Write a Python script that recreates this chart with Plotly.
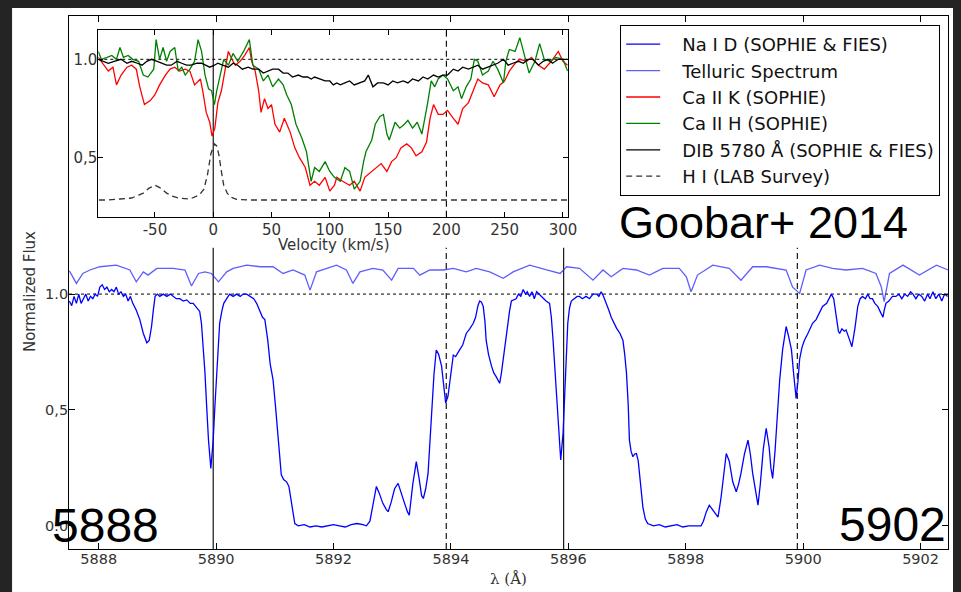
import plotly.graph_objects as go

# ---------------- data ----------------
# Main panel: Na I D spectrum (wavelength in Angstrom, normalized flux)
NA_WAVE = [5887.50, 5887.54, 5887.58, 5887.62, 5887.66, 5887.70, 5887.74, 5887.78, 5887.82, 5887.86,
           5887.90, 5887.94, 5887.98, 5888.02, 5888.06, 5888.10, 5888.14, 5888.18, 5888.22, 5888.26,
           5888.30, 5888.34, 5888.38, 5888.42, 5888.46, 5888.50, 5888.54, 5888.58, 5888.64, 5888.70,
           5888.76, 5888.82, 5888.86, 5888.90, 5888.93, 5888.96, 5889.00, 5889.04, 5889.10, 5889.16,
           5889.22, 5889.27, 5889.32, 5889.38, 5889.44, 5889.50, 5889.56, 5889.61, 5889.67, 5889.72,
           5889.75, 5889.78, 5889.81, 5889.84, 5889.87, 5889.91, 5889.95, 5889.98, 5890.01, 5890.04,
           5890.06, 5890.10, 5890.13, 5890.18, 5890.23, 5890.29, 5890.35, 5890.41, 5890.46, 5890.52,
           5890.58, 5890.64, 5890.69, 5890.75, 5890.79, 5890.83, 5890.88, 5890.92, 5890.97, 5891.01,
           5891.06, 5891.11, 5891.15, 5891.20, 5891.24, 5891.28, 5891.31, 5891.34, 5891.40, 5891.50,
           5891.60, 5891.70, 5891.80, 5891.90, 5892.00, 5892.10, 5892.20, 5892.30, 5892.40, 5892.50,
           5892.56, 5892.62, 5892.67, 5892.73, 5892.78, 5892.84, 5892.90, 5892.93, 5892.98, 5893.04,
           5893.10, 5893.15, 5893.21, 5893.26, 5893.29, 5893.35, 5893.41, 5893.46, 5893.50, 5893.53,
           5893.57, 5893.61, 5893.64, 5893.67, 5893.71, 5893.75, 5893.79, 5893.84, 5893.88, 5893.91,
           5893.95, 5893.98, 5894.01, 5894.04, 5894.08, 5894.12, 5894.15, 5894.20, 5894.26, 5894.32,
           5894.38, 5894.42, 5894.46, 5894.49, 5894.52, 5894.55, 5894.58, 5894.60, 5894.64, 5894.69,
           5894.73, 5894.77, 5894.80, 5894.83, 5894.86, 5894.89, 5894.93, 5894.97, 5895.00, 5895.03,
           5895.07, 5895.11, 5895.15, 5895.19, 5895.23, 5895.27, 5895.30, 5895.34, 5895.38, 5895.42,
           5895.46, 5895.50, 5895.54, 5895.57, 5895.62, 5895.68, 5895.71, 5895.74, 5895.77, 5895.80,
           5895.84, 5895.87, 5895.91, 5895.95, 5895.99, 5896.02, 5896.05, 5896.10, 5896.15, 5896.19,
           5896.24, 5896.30, 5896.36, 5896.42, 5896.48, 5896.52, 5896.56, 5896.60, 5896.65, 5896.69,
           5896.73, 5896.78, 5896.82, 5896.88, 5896.93, 5896.96, 5896.99, 5897.02, 5897.04, 5897.07,
           5897.10, 5897.13, 5897.16, 5897.19, 5897.21, 5897.24, 5897.27, 5897.31, 5897.35, 5897.45,
           5897.55, 5897.65, 5897.75, 5897.85, 5897.95, 5898.05, 5898.15, 5898.26, 5898.30, 5898.35,
           5898.40, 5898.46, 5898.51, 5898.55, 5898.60, 5898.65, 5898.69, 5898.74, 5898.80, 5898.86,
           5898.90, 5898.94, 5899.00, 5899.06, 5899.10, 5899.14, 5899.19, 5899.23, 5899.27, 5899.32,
           5899.37, 5899.42, 5899.45, 5899.48, 5899.52, 5899.56, 5899.60, 5899.65, 5899.71, 5899.75,
           5899.80, 5899.84, 5899.88, 5899.91, 5899.94, 5899.98, 5900.02, 5900.08, 5900.16, 5900.22,
           5900.28, 5900.33, 5900.40, 5900.48, 5900.52, 5900.56, 5900.60, 5900.62, 5900.66, 5900.70,
           5900.73, 5900.78, 5900.83, 5900.88, 5900.93, 5900.97, 5901.01, 5901.06, 5901.10, 5901.14,
           5901.18, 5901.22, 5901.27, 5901.32, 5901.36, 5901.38, 5901.41, 5901.46, 5901.52, 5901.58,
           5901.63, 5901.68, 5901.73, 5901.78, 5901.83, 5901.87, 5901.92, 5901.97, 5902.02, 5902.07,
           5902.12, 5902.16, 5902.21, 5902.26, 5902.31, 5902.36, 5902.41, 5902.46]
NA_FLUX = [0.97, 0.95, 0.99, 0.96, 1.00, 0.96, 0.98, 1.00, 0.97, 0.99,
           0.98, 1.00, 0.99, 1.03, 1.04, 1.02, 1.03, 1.01, 1.02, 1.01,
           1.03, 1.00, 1.01, 0.99, 1.00, 0.97, 0.99, 0.96, 0.93, 0.89,
           0.83, 0.79, 0.80, 0.86, 0.93, 0.99, 1.00, 0.99, 1.00, 0.99,
           1.00, 0.99, 0.98, 0.98, 0.97, 0.975, 0.96, 0.96, 0.94, 0.925,
           0.874, 0.77, 0.66, 0.51, 0.37, 0.248, 0.37, 0.52, 0.66, 0.79,
           0.874, 0.93, 0.96, 0.98, 1.00, 0.99, 1.00, 0.99, 1.00, 1.00,
           0.99, 0.98, 0.96, 0.92, 0.90, 0.89, 0.80, 0.70, 0.63, 0.52,
           0.37, 0.22, 0.20, 0.19, 0.17, 0.10, 0.04, 0.01, 0.00, 0.005,
           -0.005, 0.00, -0.005, 0.00, 0.005, 0.00, -0.005, 0.005, 0.01, 0.005,
           0.00, 0.02, 0.09, 0.17, 0.14, 0.097, 0.07, 0.061, 0.10, 0.16,
           0.183, 0.14, 0.097, 0.06, 0.046, 0.18, 0.277, 0.20, 0.13, 0.118,
           0.16, 0.226, 0.35, 0.485, 0.65, 0.759, 0.74, 0.69, 0.60, 0.53,
           0.56, 0.615, 0.68, 0.737, 0.73, 0.75, 0.76, 0.78, 0.83, 0.85,
           0.874, 0.90, 0.95, 0.97, 0.965, 0.947, 0.88, 0.80, 0.74, 0.69,
           0.66, 0.644, 0.63, 0.615, 0.66, 0.72, 0.80, 0.874, 0.93, 0.97,
           0.975, 0.98, 1.00, 0.99, 1.02, 1.00, 1.01, 0.99, 1.01, 0.98,
           1.01, 1.00, 0.99, 0.98, 0.97, 0.96, 0.90, 0.80, 0.67, 0.543,
           0.40, 0.284, 0.40, 0.66, 0.874, 0.94, 0.97, 0.98, 0.99, 0.99,
           0.98, 0.99, 0.98, 1.00, 1.00, 0.99, 1.01, 0.99, 0.96, 0.93,
           0.90, 0.87, 0.853, 0.83, 0.80, 0.74, 0.66, 0.52, 0.37, 0.32,
           0.298, 0.31, 0.312, 0.28, 0.226, 0.15, 0.08, 0.03, 0.01, 0.00,
           0.005, -0.005, 0.00, 0.005, -0.005, 0.00, 0.00, 0.00, 0.02, 0.06,
           0.089, 0.067, 0.05, 0.038, 0.12, 0.24, 0.312, 0.28, 0.19, 0.147,
           0.18, 0.226, 0.31, 0.37, 0.31, 0.226, 0.14, 0.089, 0.18, 0.33,
           0.421, 0.34, 0.25, 0.205, 0.32, 0.48, 0.63, 0.76, 0.86, 0.82,
           0.76, 0.65, 0.55, 0.62, 0.72, 0.77, 0.80, 0.83, 0.874, 0.89,
           0.92, 0.947, 0.96, 1.00, 0.98, 0.90, 0.84, 0.83, 0.85, 0.84,
           0.845, 0.81, 0.773, 0.85, 0.947, 0.98, 0.99, 0.98, 1.00, 0.98,
           0.98, 0.96, 0.947, 0.92, 0.90, 0.93, 0.96, 0.97, 0.99, 0.99,
           1.00, 0.98, 1.00, 0.99, 1.01, 1.00, 0.98, 1.00, 0.99, 0.97,
           1.00, 0.98, 1.01, 0.98, 1.00, 0.97, 1.00, 0.99]

# Telluric spectrum (offset above the Na I D spectrum)
TEL_WAVE = [5887.50, 5887.51, 5887.62, 5887.73, 5887.85, 5888.02, 5888.30, 5888.53, 5888.64, 5888.76,
            5888.84, 5888.99, 5889.27, 5889.47, 5889.58, 5889.70, 5889.81, 5889.92, 5890.04, 5890.18,
            5890.29, 5890.52, 5890.75, 5890.97, 5891.14, 5891.31, 5891.51, 5891.60, 5891.71, 5891.88,
            5892.05, 5892.22, 5892.33, 5892.45, 5892.67, 5892.84, 5892.99, 5893.10, 5893.36, 5893.47,
            5893.64, 5893.87, 5894.04, 5894.26, 5894.43, 5894.66, 5894.72, 5894.89, 5895.06, 5895.34,
            5895.63, 5895.86, 5895.97, 5896.19, 5896.42, 5896.59, 5896.73, 5896.93, 5897.16, 5897.38,
            5897.61, 5897.89, 5898.01, 5898.09, 5898.20, 5898.46, 5898.74, 5898.94, 5899.14, 5899.37,
            5899.71, 5899.82, 5899.94, 5900.05, 5900.28, 5900.50, 5900.73, 5901.01, 5901.24, 5901.33,
            5901.38, 5901.47, 5901.70, 5901.98, 5902.27, 5902.47]
TEL_FLUX = [1.10, 1.096, 1.046, 1.089, 1.104, 1.118, 1.125, 1.104, 1.053, 1.096,
            1.082, 1.111, 1.111, 1.104, 1.035, 1.089, 1.096, 1.089, 1.053, 1.096,
            1.111, 1.125, 1.118, 1.118, 1.089, 1.104, 1.082, 1.017, 1.096, 1.111,
            1.125, 1.104, 1.046, 1.096, 1.111, 1.104, 1.060, 1.111, 1.111, 1.082,
            1.104, 1.104, 1.111, 1.096, 1.111, 1.096, 1.089, 1.068, 1.096, 1.125,
            1.104, 1.089, 1.118, 1.111, 1.060, 1.104, 1.075, 1.111, 1.104, 1.082,
            1.111, 1.111, 1.075, 1.010, 1.082, 1.125, 1.111, 1.060, 1.118, 1.118,
            1.104, 1.030, 1.003, 1.104, 1.125, 1.111, 1.104, 1.111, 1.089, 1.032,
            0.967, 1.089, 1.125, 1.082, 1.125, 1.104]

# Reference wavelengths (Na D2, D1) and their +200 km/s counterparts
NA_REST = [5889.95, 5895.92]
NA_SHIFT = [5893.92, 5899.90]
MAIN_X_TICKS = [5888, 5890, 5892, 5894, 5896, 5898, 5900, 5902]
MAIN_X_LABELS = ["5888", "5890", "5892", "5894", "5896", "5898", "5900", "5902"]
MAIN_Y_TICKS = [0.0, 0.5, 1.0]
MAIN_Y_LABELS = ["0.0", "0,5", "1.0"]

# Inset: velocity profiles (km/s, normalized flux)
CAK_VEL = [-98.6, -94, -90, -86, -83, -79, -74, -70, -66, -63, -59, -54, -50, -46, -41, -37, -33, -29,
           -24, -20, -16, -11, -9, -6, -3, -1, 1.4, 4, 7, 10, 13, 16, 19, 23, 27, 31, 33, 36, 39, 41,
           44, 47, 50, 53, 57, 61, 66, 70, 74, 79, 83, 87, 91, 96, 100, 104, 106, 111, 117, 121,
           126, 130, 134, 140, 144, 149, 153, 157, 161, 166, 170, 174, 179, 183, 186, 189, 193, 197,
           201, 206, 210, 214, 219, 223, 227, 231, 236, 241, 246, 250, 254, 259, 263, 269, 273, 279,
           284, 290, 296, 300, 304]
CAK_FLUX = [1.01, 0.97, 0.94, 0.96, 0.87, 0.92, 0.96, 0.97, 0.95, 0.86, 0.77, 0.79, 0.82, 0.87, 0.92,
            0.95, 0.96, 0.94, 0.95, 0.94, 0.87, 0.90, 0.84, 0.73, 0.68, 0.61, 0.65, 0.78, 0.84, 0.94,
            1.04, 1.00, 0.97, 0.99, 1.02, 1.06, 0.99, 0.94, 0.84, 0.73, 0.80, 0.75, 0.77, 0.67, 0.63,
            0.70, 0.63, 0.55, 0.50, 0.45, 0.36, 0.38, 0.36, 0.40, 0.33, 0.36, 0.40, 0.38, 0.36, 0.38,
            0.33, 0.40, 0.42, 0.45, 0.47, 0.43, 0.48, 0.50, 0.55, 0.57, 0.55, 0.51, 0.53, 0.58, 0.70,
            0.77, 0.72, 0.72, 0.74, 0.70, 0.67, 0.75, 0.78, 0.84, 0.90, 0.88, 0.87, 0.81, 0.87, 0.89,
            0.94, 0.98, 1.00, 0.99, 1.01, 0.97, 0.95, 0.99, 1.04, 0.99, 0.97]

CAH_VEL = [-98.6, -96, -91, -87, -83, -80, -77, -73, -69, -64, -60, -56, -51, -49, -46, -43, -40, -37,
           -33, -30, -27, -24, -20, -16, -13, -10, -7, -4, -1.4, 1, 3, 6, 9, 13, 17, 21, 26, 31, 34,
           39, 43, 47, 51, 56, 60, 63, 67, 71, 76, 80, 84, 87, 91, 96, 100, 104, 109, 113, 117, 121,
           126, 129, 131, 136, 139, 143, 146, 149, 151, 156, 160, 164, 167, 171, 175, 179, 181, 184,
           187, 190, 193, 197, 201, 206, 210, 213, 217, 221, 224, 227, 231, 236, 240, 244, 249, 251,
           254, 259, 263, 267, 271, 276, 280, 284, 289, 294, 300, 304]
CAH_FLUX = [1.04, 1.00, 1.01, 1.02, 1.00, 1.06, 1.01, 1.02, 1.00, 0.99, 0.92, 0.91, 0.95, 1.10, 1.00,
            1.06, 0.99, 1.04, 1.06, 0.94, 0.96, 0.92, 0.95, 0.99, 1.10, 1.04, 0.92, 0.85, 0.84, 0.77,
            0.84, 0.92, 1.00, 0.97, 1.03, 0.99, 1.04, 1.10, 0.97, 0.95, 0.89, 0.92, 0.86, 0.90, 0.87,
            0.82, 0.77, 0.67, 0.60, 0.53, 0.38, 0.45, 0.43, 0.48, 0.43, 0.40, 0.38, 0.45, 0.43, 0.34,
            0.38, 0.48, 0.53, 0.59, 0.67, 0.71, 0.72, 0.62, 0.59, 0.68, 0.65, 0.67, 0.69, 0.65, 0.68,
            0.62, 0.68, 0.78, 0.89, 0.86, 0.90, 0.92, 0.90, 0.84, 0.86, 0.80, 0.86, 0.90, 1.00, 0.99,
            0.92, 0.94, 0.99, 0.95, 0.88, 0.99, 1.05, 1.04, 1.11, 1.02, 0.93, 0.99, 1.08, 1.00, 0.99,
            1.01, 1.00, 0.94]

DIB_VEL = [-98.6, -94, -90, -85, -79, -74, -70, -65, -61, -57, -53, -48, -44, -40, -36, -31, -27, -23,
           -19, -14, -10, -6, -3, 1, 4, 8, 13, 17, 21, 25, 30, 34, 39, 43, 47, 51, 56, 60, 64, 68,
           73, 77, 81, 84, 87, 92, 96, 100, 103, 106, 109, 113, 117, 121, 126, 130, 133, 137, 141,
           146, 150, 154, 158, 163, 167, 171, 176, 180, 184, 189, 193, 197, 201, 206, 210, 214, 219,
           223, 227, 231, 236, 240, 244, 249, 253, 257, 262, 266, 270, 274, 279, 283, 287, 291, 296,
           300, 304]
DIB_FLUX = [1.00, 0.99, 0.98, 0.99, 1.00, 0.98, 0.99, 0.98, 0.97, 0.99, 1.00, 0.99, 0.98, 0.97, 0.97,
            0.99, 0.98, 0.97, 0.97, 0.98, 0.98, 0.97, 0.96, 0.97, 0.98, 0.97, 0.96, 0.98, 0.97, 0.95,
            0.96, 0.95, 0.95, 0.93, 0.94, 0.95, 0.95, 0.93, 0.93, 0.91, 0.92, 0.91, 0.91, 0.90, 0.91,
            0.90, 0.89, 0.89, 0.87, 0.88, 0.87, 0.88, 0.89, 0.87, 0.88, 0.89, 0.92, 0.86, 0.88, 0.88,
            0.87, 0.89, 0.88, 0.89, 0.88, 0.90, 0.89, 0.91, 0.90, 0.92, 0.91, 0.92, 0.92, 0.95, 0.94,
            0.96, 0.95, 0.96, 0.97, 0.95, 0.96, 0.97, 0.98, 1.00, 0.97, 0.98, 0.99, 0.98, 1.00, 1.00,
            0.97, 0.99, 1.00, 0.98, 1.00, 1.00, 1.00]

HI_VEL = [-98, -90, -80, -70, -64, -60, -55, -50, -45, -40, -35, -30, -20, -12, -8, -5, -2, 1, 3, 5,
          7, 9, 12, 15, 20, 30, 50, 75, 100, 125, 150, 175, 200, 225, 250, 275, 304]
HI_FLUX = [0.285, 0.285, 0.29, 0.295, 0.31, 0.32, 0.345, 0.36, 0.345, 0.32, 0.305, 0.295, 0.29, 0.31,
           0.34, 0.41, 0.52, 0.57, 0.56, 0.51, 0.43, 0.36, 0.32, 0.30, 0.288, 0.285, 0.285, 0.285,
           0.285, 0.285, 0.285, 0.285, 0.285, 0.285, 0.285, 0.285, 0.285]

INSET_X_TICKS = [-50, 0, 50, 100, 150, 200, 250, 300]
INSET_X_LABELS = ["-50", "0", "50", "100", "150", "200", "250", "300"]
INSET_Y_TICKS = [0.5, 1.0]
INSET_Y_LABELS = ["0,5", "1.0"]
VEL_MARKS = [0, 200]

LEGEND_NAMES = ["Na I D (SOPHIE & FIES)", "Telluric Spectrum", "Ca II K (SOPHIE)", "Ca II H (SOPHIE)",
                "DIB 5780 Å (SOPHIE & FIES)", "H I (LAB Survey)"]

# ---------------- figure ----------------
# The page keeps the browser's 8px body margin (it forms the dark frame at the
# top/left). Horizontally the captured page is slightly wider than the picture
# (~969 CSS px onto 961), so picture x-pixels are converted with K.
OFF = 8
K = 1.0085
W, H = 961, 584


def fx(p):
    """picture pixel x -> paper fraction"""
    return (p * K - OFF) / W


def fy(p):
    """picture pixel y -> paper fraction"""
    return 1 - (p - OFF) / H


MAIN_XR = [5887.494, 5902.47]
MAIN_YR = [-0.1, 2.2]
INS_XR = [-98.6, 304.2]
INS_YR = [0.2, 1.149]
TXT = "#2a2a2a"
FONT = "DejaVu Sans"
PAD = "\u00a0\u00a0\u00a0"

fig = go.Figure()

# main reference lines
fig.add_trace(go.Scatter(x=MAIN_XR, y=[1.0, 1.0], mode="lines", showlegend=False,
                         line=dict(color="black", width=1, dash="dot"), hoverinfo="skip"))
vx, vy = [], []
for w in NA_REST:
    vx += [w, w, None]
    vy += [MAIN_YR[0], 1.2, None]
fig.add_trace(go.Scatter(x=vx, y=vy, mode="lines", showlegend=False,
                         line=dict(color="black", width=1.1), hoverinfo="skip"))
vx, vy = [], []
for w in NA_SHIFT:
    vx += [w, w, None]
    vy += [MAIN_YR[0], 1.2, None]
fig.add_trace(go.Scatter(x=vx, y=vy, mode="lines", showlegend=False,
                         line=dict(color="black", width=1.1, dash="6px,4px"), hoverinfo="skip"))

# main spectra
fig.add_trace(go.Scatter(x=NA_WAVE, y=NA_FLUX, mode="lines", name=PAD + LEGEND_NAMES[0],
                         line=dict(color="#0000ff", width=1.3)))
fig.add_trace(go.Scatter(x=TEL_WAVE, y=TEL_FLUX, mode="lines", name=PAD + LEGEND_NAMES[1],
                         line=dict(color="rgba(40,40,255,0.75)", width=1.3)))

# inset reference lines
fig.add_trace(go.Scatter(x=INS_XR, y=[1.0, 1.0], mode="lines", showlegend=False, xaxis="x2", yaxis="y2",
                         line=dict(color="black", width=1, dash="dot"), hoverinfo="skip"))
fig.add_trace(go.Scatter(x=[VEL_MARKS[0], VEL_MARKS[0]], y=INS_YR, mode="lines", showlegend=False,
                         xaxis="x2", yaxis="y2", line=dict(color="black", width=1.1), hoverinfo="skip"))
fig.add_trace(go.Scatter(x=[VEL_MARKS[1], VEL_MARKS[1]], y=INS_YR, mode="lines", showlegend=False,
                         xaxis="x2", yaxis="y2", line=dict(color="black", width=1.1, dash="6px,4px"),
                         hoverinfo="skip"))

# inset spectra
fig.add_trace(go.Scatter(x=CAK_VEL, y=CAK_FLUX, mode="lines", name=PAD + LEGEND_NAMES[2],
                         xaxis="x2", yaxis="y2", line=dict(color="#ff0000", width=1.3)))
fig.add_trace(go.Scatter(x=CAH_VEL, y=CAH_FLUX, mode="lines", name=PAD + LEGEND_NAMES[3],
                         xaxis="x2", yaxis="y2", line=dict(color="#008000", width=1.3)))
fig.add_trace(go.Scatter(x=DIB_VEL, y=DIB_FLUX, mode="lines", name=PAD + LEGEND_NAMES[4],
                         xaxis="x2", yaxis="y2", line=dict(color="black", width=1.3)))
fig.add_trace(go.Scatter(x=HI_VEL, y=HI_FLUX, mode="lines", name=PAD + LEGEND_NAMES[5],
                         xaxis="x2", yaxis="y2", line=dict(color="#333333", width=1.3, dash="6px,4px")))

axis_common = dict(showline=True, linecolor="black", linewidth=1, mirror="ticks", ticks="inside",
                   tickcolor="black", showgrid=False, zeroline=False, tickmode="array",
                   fixedrange=True)

fig.update_layout(
    width=W, height=H,
    margin=dict(l=0, r=0, t=0, b=0),
    paper_bgcolor="#242424",
    plot_bgcolor="white",
    font=dict(family=FONT, color=TXT),
    xaxis=dict(domain=[fx(69), fx(949)], range=MAIN_XR, tickvals=MAIN_X_TICKS, ticktext=MAIN_X_LABELS,
               ticklen=6, tickfont=dict(size=14.5, color="#333"), anchor="y", ticklabelstandoff=-3,
               **axis_common),
    yaxis=dict(domain=[fy(549), fy(16)], range=MAIN_YR, tickvals=MAIN_Y_TICKS, ticktext=MAIN_Y_LABELS,
               ticklen=6, tickfont=dict(size=14.5, color="#333"), anchor="x", ticklabelstandoff=-3,
               **axis_common),
    xaxis2=dict(domain=[fx(98.3), fx(568.3)], range=INS_XR, tickvals=INSET_X_TICKS,
                ticktext=INSET_X_LABELS, ticklen=5, tickfont=dict(size=15, color="#333"), anchor="y2",
                ticklabelstandoff=-1, **axis_common),
    yaxis2=dict(domain=[fy(216.7), fy(30)], range=INS_YR, tickvals=INSET_Y_TICKS,
                ticktext=INSET_Y_LABELS, ticklen=5, tickfont=dict(size=15, color="#333"), anchor="x2",
                ticklabelstandoff=-3, **axis_common),
    legend=dict(x=fx(620.7), y=fy(25), xanchor="left", yanchor="top", bgcolor="white",
                bordercolor="black", borderwidth=1, font=dict(family=FONT, size=18, color="#111"),
                itemwidth=34, tracegroupgap=0),
    showlegend=True,
    shapes=[
        dict(type="rect", xref="paper", yref="paper", x0=fx(12), x1=fx(958), y0=0, y1=1,
             fillcolor="white", line=dict(width=0), layer="below"),
    ],
    annotations=[
        dict(text="Normalized Flux", x=fx(30), y=fy(292), xref="paper", yref="paper", showarrow=False,
             textangle=-90, font=dict(family=FONT, size=15, color="#333"), xanchor="center",
             yanchor="middle"),
        dict(text="λ (Å)", x=fx(509), y=fy(579), xref="paper", yref="paper", showarrow=False,
             font=dict(family="DejaVu Serif", size=15, color="#333"), xanchor="center", yanchor="middle"),
        dict(text="Velocity (km/s)", x=fx(334), y=fy(245), xref="paper", yref="paper", showarrow=False,
             font=dict(family=FONT, size=15, color="#333"), xanchor="center", yanchor="middle"),
        dict(text="Goobar+ 2014", x=fx(618), y=fy(222), xref="paper", yref="paper", showarrow=False,
             font=dict(family="Liberation Sans", size=45, color="black"), xanchor="left",
             yanchor="middle"),
        dict(text="5888", x=fx(50), y=fy(525), xref="paper", yref="paper", showarrow=False,
             font=dict(family="Liberation Sans", size=48, color="black"), xanchor="left",
             yanchor="middle"),
        dict(text="5902", x=fx(949), y=fy(524), xref="paper", yref="paper", showarrow=False,
             font=dict(family="Liberation Sans", size=48, color="black"), xanchor="right",
             yanchor="middle"),
    ],
)

fig.write_html(
    "out.html",
    config={"displayModeBar": False},
    post_script="document.body.style.background='#242424';",
)
